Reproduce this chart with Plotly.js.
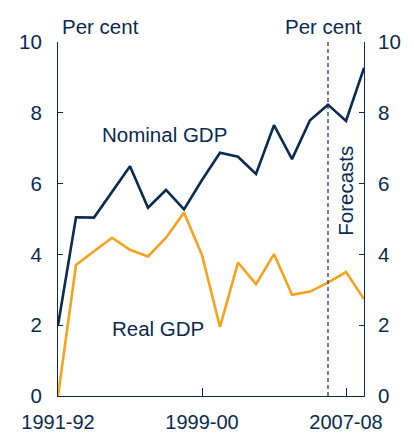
<!DOCTYPE html>
<html>
<head>
<meta charset="utf-8">
<script src="https://cdn.plot.ly/plotly-3.0.1.min.js"></script>
<style>html,body{margin:0;padding:0;background:#fff;}#chart{width:414px;height:434px;}</style>
</head>
<body>
<div id="chart"></div>
<script>
var years = ["1991-92","1992-93","1993-94","1994-95","1995-96","1996-97","1997-98","1998-99","1999-00","2000-01","2001-02","2002-03","2003-04","2004-05","2005-06","2006-07","2007-08","2008-09"];
var nominalGDP = [2.0,5.05,5.04,5.77,6.49,5.32,5.82,5.27,6.1,6.87,6.76,6.27,7.65,6.69,7.79,8.23,7.77,9.27];
var realGDP = [0.0,3.70,4.09,4.47,4.13,3.94,4.47,5.18,3.98,1.95,3.77,3.16,4.01,2.86,2.95,3.20,3.50,2.74];
var xTickLabels = ["1991-92","1999-00","2007-08"];
var forecastStart = "2006-07";

var navy = "#0a2a50";
var orange = "#f6a21c";
var font = "Liberation Sans, Arial, sans-serif";
var fs = 20.5;

var idx = years.map(function(_, i){ return i; });
var tickIdx = xTickLabels.map(function(l){ return years.indexOf(l); });

var traces = [
  {x: idx, y: realGDP, type: "scatter", mode: "lines", line: {color: orange, width: 2.6}, hoverinfo: "skip", cliponaxis: false},
  {x: idx, y: nominalGDP, type: "scatter", mode: "lines", line: {color: navy, width: 2.6}, hoverinfo: "skip", cliponaxis: false},
  {x: [0], y: [0], yaxis: "y2", type: "scatter", mode: "markers", marker: {opacity: 0}, hoverinfo: "skip", showlegend: false}
];

var yTick = [0,2,4,6,8,10];
var layout = {
  width: 414, height: 434,
  margin: {l: 58, r: 50, t: 42, b: 38},
  paper_bgcolor: "#fff", plot_bgcolor: "#fff",
  showlegend: false,
  font: {family: font, size: fs, color: navy},
  xaxis: {
    range: [0, years.length - 1],
    tickvals: tickIdx, ticktext: xTickLabels,
    ticks: "inside", ticklen: 8, tickcolor: navy, tickwidth: 1,
    showline: true, linecolor: navy, linewidth: 1,
    showgrid: false, zeroline: false,
    tickfont: {family: font, size: 20, color: navy},
    ticklabelstandoff: 8
  },
  yaxis: {
    range: [0, 10], tickvals: yTick,
    ticks: "inside", ticklen: 5, tickcolor: navy,
    showline: true, linecolor: navy, linewidth: 1,
    showgrid: false, zeroline: false,
    tickfont: {family: font, size: fs, color: navy},
    ticklabelstandoff: 11
  },
  yaxis2: {
    range: [0, 10], tickvals: yTick, overlaying: "y", side: "right",
    ticks: "inside", ticklen: 5, tickcolor: navy,
    showline: true, linecolor: navy, linewidth: 1,
    showgrid: false, zeroline: false,
    tickfont: {family: font, size: fs, color: navy},
    ticklabelstandoff: 9
  },
  shapes: [
    {type: "line", xref: "x", yref: "paper", x0: years.indexOf(forecastStart), x1: years.indexOf(forecastStart), y0: 0, y1: 1,
     line: {color: navy, width: 1.2, dash: "4px,3px"}}
  ],
  annotations: [
    {text: "Per cent", xref: "paper", yref: "paper", x: 0, y: 1, xanchor: "left", yanchor: "bottom", yshift: 2, xshift: 2, showarrow: false, font: {size: fs, color: navy}},
    {text: "Per cent", xref: "paper", yref: "paper", x: 1, y: 1, xanchor: "right", yanchor: "bottom", yshift: 2, showarrow: false, font: {size: fs, color: navy}},
    {text: "Nominal GDP", xref: "x", yref: "y", x: 5.9, y: 7.4, showarrow: false, font: {size: fs, color: navy}},
    {text: "Real GDP", xref: "x", yref: "y", x: 5.55, y: 1.9, showarrow: false, font: {size: fs, color: navy}},
    {text: "Forecasts", xref: "x", yref: "y", x: 16.0, y: 5.8, textangle: -90, showarrow: false, font: {size: fs, color: navy}}
  ]
};

Plotly.newPlot("chart", traces, layout, {displayModeBar: false, staticPlot: true});
</script>
</body>
</html>
